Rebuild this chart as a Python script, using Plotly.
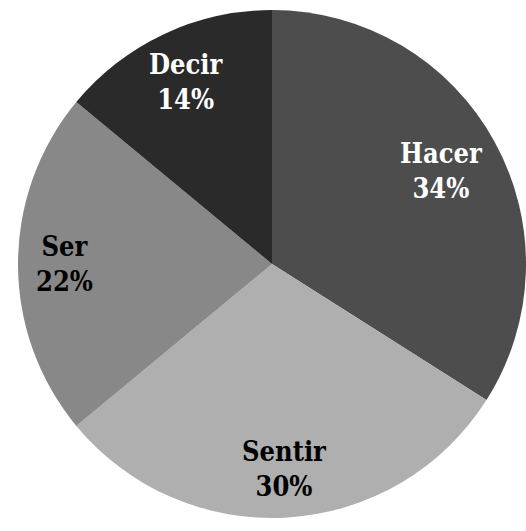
import math
import plotly.graph_objects as go

labels = ["Hacer", "Sentir", "Ser", "Decir"]
values = [34, 30, 22, 14]
colors = ["#4d4d4d", "#afafaf", "#888888", "#2a2a2a"]
text_colors = ["white", "black", "black", "white"]

W, H = 526, 531
# pie geometry (pixel space)
x0, x1 = 18, 526
ytop, ybot = 10, 518
cx, cy = (x0 + x1) / 2, (ytop + ybot) / 2
R = (x1 - x0) / 2

fig = go.Figure(go.Pie(
    labels=labels, values=values, sort=False, direction="clockwise", rotation=0,
    marker=dict(colors=colors, line=dict(width=0)),
    textinfo="none", hoverinfo="label+percent", showlegend=False,
    domain=dict(x=[x0 / W, x1 / W], y=[(H - ybot) / H, (H - ytop) / H]),
))

total = sum(values)
cum = 0
radial = [0.76, 0.81, 0.815, 0.79]
for lab, v, tc, rf in zip(labels, values, text_colors, radial):
    mid = (cum + v / 2) / total * 2 * math.pi
    cum += v
    px = cx + rf * R * math.sin(mid)
    py = cy - rf * R * math.cos(mid)
    fig.add_annotation(
        x=px / W, y=1 - py / H, xref="paper", yref="paper",
        text=f"<b>{lab}<br>{round(v / total * 100)}%</b>", showarrow=False,
        font=dict(family="DejaVu Serif Condensed, DejaVu Serif", size=27, color=tc),
        xanchor="center", yanchor="middle", align="center",
    )

fig.update_layout(
    width=W, height=H, margin=dict(l=0, r=0, t=0, b=0),
    paper_bgcolor="white", plot_bgcolor="white",
)
fig.write_html("out.html")
